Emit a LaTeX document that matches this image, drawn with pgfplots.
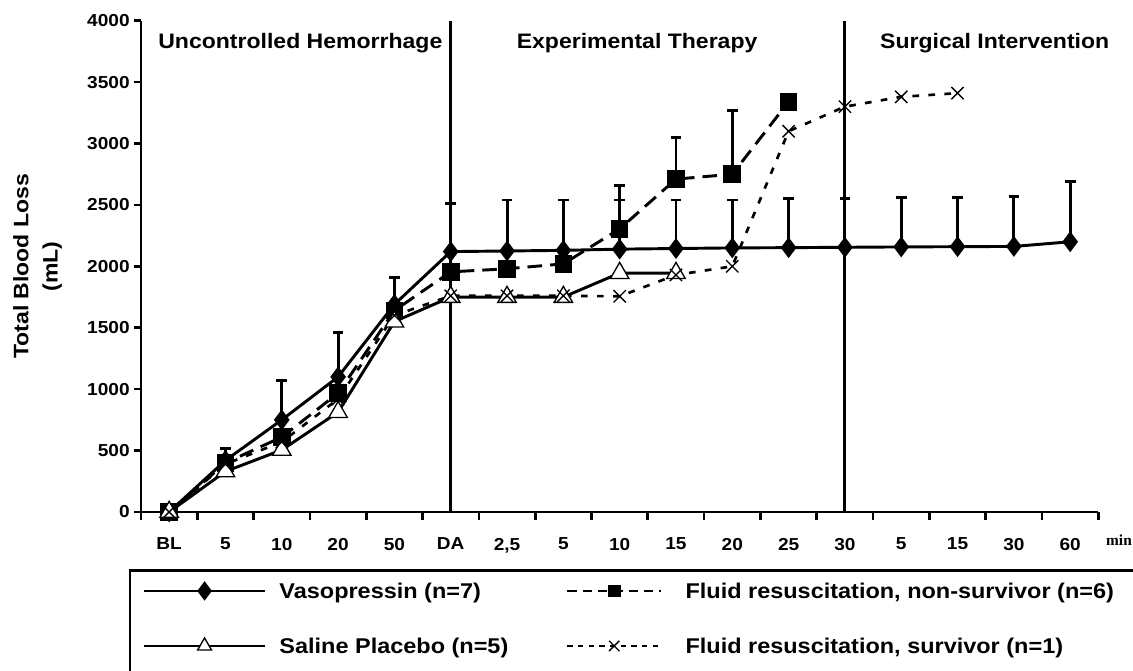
\documentclass[border=0pt]{standalone}
\usepackage{fontspec}
\setmainfont{Liberation Sans}[FakeStretch=1.1]
\newfontfamily\minfont{Liberation Serif}
\usepackage{pgfplots}
\pgfplotsset{compat=1.18}
\newcommand{\tickfont}{\fontsize{13}{15}\selectfont\bfseries}
\newcommand{\bigfont}{\fontsize{15.7}{18}\selectfont\bfseries}
\newcommand{\legfont}{\fontsize{16}{18}\selectfont\bfseries}
\pgfplotsset{
  longimg/.style={legend image code/.code={\draw[##1, line width=1.6pt, mark repeat=2, mark phase=2] plot coordinates {(0pt,5.7pt) (45.375pt,5.7pt) (90.75pt,5.7pt)};}},
  sqimg/.style={legend image code/.code={\draw[##1, line width=1.6pt, mark size=4pt, dash pattern=on 7pt off 4.5pt, mark repeat=2, mark phase=2] plot coordinates {(0pt,5.7pt) (35.25pt,5.7pt) (70.5pt,5.7pt)};}},
  triimg/.style={legend image code/.code={\draw[##1, line width=1.6pt, mark size=6pt, mark repeat=2, mark phase=2] plot coordinates {(0pt,5.7pt) (45.375pt,5.7pt) (90.75pt,5.7pt)};}},
  ximg/.style={legend image code/.code={\draw[##1, line width=1.6pt, mark size=5.5pt, dash pattern=on 4pt off 4pt, mark repeat=2, mark phase=2] plot coordinates {(0pt,5.7pt) (35.25pt,5.7pt) (70.5pt,5.7pt)};}},
}
\begin{document}
\begin{tikzpicture}
\begin{axis}[
  at={(0pt,0pt)}, anchor=south west,
  scale only axis, width=718pt, height=368.5pt,
  xmin=-0.5, xmax=16.5, ymin=0, ymax=4000,
  axis x line*=bottom, axis y line*=left,
  axis line style={line width=2.2pt, black},
  xtick={0,...,16},
  xticklabels={BL,5,10,20,50,DA,{2,5},5,10,15,20,25,30,5,15,30,60},
  minor xtick={-0.5,0.5,...,16.5},
  ytick={0,500,...,4000},
  tick align=outside,
  major tick length=5pt,
  minor tick length=6pt,
  tick style={line width=2pt, black},
  major x tick style={draw=none},
  minor x tick style={line width=2pt, black},
  ticklabel style={font=\tickfont},
  xticklabel style={yshift=-11pt},
  /pgf/number format/assume math mode=true,
  /pgf/number format/1000 sep={},
  ylabel={Total Blood Loss\\(mL)},
  ylabel style={align=center, yshift=12pt, font=\fontsize{15.7}{22}\selectfont\bfseries},
  clip=false,
  legend columns=2,
  legend cell align=left,
  legend style={at={(axis description cs:-0.01253,-0.117)}, anchor=north west,
    cells={anchor=base west},
    draw=black, line width=1.8pt, inner xsep=9.6pt, inner ysep=8.9pt,
    column sep=0pt, row sep=25.75pt,
    nodes={inner sep=0pt, text height=12pt, text depth=3.5pt, font=\legfont}},
]
% vertical separators
\addplot[line width=2.2pt, black, forget plot] coordinates {(5,0) (5,4000)};
\addplot[line width=2.2pt, black, forget plot] coordinates {(12,0) (12,4000)};

% Vasopressin
\addplot[black, line width=2.2pt, mark=diamond*, mark size=6pt, mark options={solid, fill=black},
  longimg,
  error bars/.cd, y dir=plus, y explicit,
  error bar style={line width=2.2pt, solid},
  error mark options={rotate=90, mark size=4pt, line width=2.2pt},
  ]
  coordinates {
  (0,0) +- (0,0)
  (1,420) +- (0,100)
  (2,750) +- (0,320)
  (3,1100) +- (0,360)
  (4,1690) +- (0,220)
  (5,2120) +- (0,390)
  (6,2125) +- (0,415)
  (7,2130) +- (0,410)
  (8,2140) +- (0,400)
  (9,2145) +- (0,395)
  (10,2150) +- (0,390)
  (11,2152) +- (0,398)
  (12,2155) +- (0,400)
  (13,2158) +- (0,402)
  (14,2160) +- (0,400)
  (15,2162) +- (0,405)
  (16,2200) +- (0,490)
  };
\addlegendentry{\hspace{10pt}\makebox[215pt][l]{Vasopressin (n=7)}}

% Fluid resuscitation, non-survivor
\addplot[black, line width=2.2pt, dash pattern=on 11pt off 6pt, mark=square*, mark size=5.5pt,
  mark options={solid, fill=black},
  sqimg,
  error bars/.cd, y dir=plus, y explicit,
  error bar style={line width=2.2pt, solid},
  error mark options={rotate=90, mark size=4pt, line width=2.2pt},
  ]
  coordinates {
  (0,0) +- (0,0)
  (1,400) +- (0,0)
  (2,610) +- (0,0)
  (3,967) +- (0,0)
  (4,1640) +- (0,0)
  (5,1955) +- (0,0)
  (6,1980) +- (0,0)
  (7,2020) +- (0,0)
  (8,2305) +- (0,355)
  (9,2710) +- (0,340)
  (10,2750) +- (0,520)
  (11,3340) +- (0,0)
  };
\addlegendentry{\hspace{17.5pt}\makebox[327pt][l]{Fluid resuscitation, non-survivor (n=6)}}

% Saline placebo
\addplot[black, line width=2.2pt, mark=triangle*, mark size=8pt,
  mark options={solid, fill=white, draw=black, line width=1pt},
  triimg,
  ]
  coordinates {
  (0,0) (1,330) (2,505) (3,813) (4,1550) (5,1750) (6,1750) (7,1750) (8,1945) (9,1945)
  };
\addlegendentry[text depth=16pt]{\hspace{10pt}\makebox[215pt][l]{Saline Placebo (n=5)}}

% Fluid resuscitation, survivor
\addplot[black, line width=2pt, dash pattern=on 5pt off 7pt, mark=x, mark size=6.5pt,
  mark options={solid, line width=1pt},
  ximg,
  ]
  coordinates {
  (0,0) (1,390) (2,570) (3,920) (4,1600) (5,1760) (6,1760) (7,1760) (8,1756) (9,1930)
  (10,2000) (11,3100) (12,3300) (13,3380) (14,3410)
  };
\addlegendentry[text depth=16pt]{\hspace{17.5pt}\makebox[327pt][l]{Fluid resuscitation, survivor (n=1)}}

% section labels
\node[font=\bigfont] at (axis cs:2.33,3821) {Uncontrolled Hemorrhage};
\node[font=\bigfont] at (axis cs:8.31,3821) {Experimental Therapy};
\node[font=\bigfont] at (axis cs:14.66,3821) {Surgical Intervention};
\end{axis}
\node[font=\minfont\fontsize{11.5}{13}\selectfont\bfseries] at (733.5pt,-21pt) {min};
\pgfresetboundingbox
\path[use as bounding box] (-105.75pt,-119.25pt) rectangle (744pt,384pt);
\end{tikzpicture}
\end{document}
